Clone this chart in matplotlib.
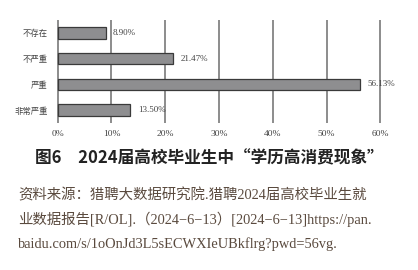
import matplotlib.pyplot as plt

categories = ['不存在', '不严重', '严重', '非常严重']
values = [8.90, 21.47, 56.13, 13.50]
value_labels = ['8.90%', '21.47%', '56.13%', '13.50%']
xticks = [0, 10, 20, 30, 40, 50, 60]
xtick_labels = ['0%', '10%', '20%', '30%', '40%', '50%', '60%']

title = '图6　2024届高校毕业生中“学历高消费现象”'
source_lines = [
    '资料来源：猎聘大数据研究院.猎聘2024届高校毕业生就',
    '业数据报告[R/OL].（2024−6−13）[2024−6−13]https://pan.',
    'baidu.com/s/1oOnJd3L5sECWXIeUBkflrg?pwd=56vg.',
]

serif = ['Liberation Serif', 'Noto Sans CJK SC']
cjk = ['Noto Sans CJK SC', 'DejaVu Sans']

fig = plt.figure(figsize=(4.18, 2.70), dpi=100)
ax = fig.add_axes([0.134, 0.544, 0.78, 0.382])

ypos = list(range(len(categories)))[::-1]
ax.barh(ypos, values, height=0.45, color='#8e8e90', edgecolor='#3a3a3a',
        linewidth=0.9, zorder=3)
for y, v, lab in zip(ypos, values, value_labels):
    ax.text(v + 1.4, y, lab, va='center', ha='left', fontsize=6.5,
            family=serif, color='#444444')

for x in xticks:
    ax.axvline(x, color='#6e6e6e', linewidth=1.1, zorder=1)

ax.set_xticks(xticks)
ax.set_xticklabels(xtick_labels, family=serif, fontsize=6.8, color='#444444')
ax.set_yticks(ypos)
ax.set_yticklabels(categories, family=cjk, fontsize=6, color='#444444')
ax.tick_params(length=0, pad=6)
ax.tick_params(axis='x', pad=5)
ax.set_xlim(-0.3, 60.3)
ax.set_ylim(-0.5, 3.5)
for s in ax.spines.values():
    s.set_visible(False)

fig.text(0.5, 0.415, title, ha='center', va='center', fontsize=12,
         fontweight='bold', family=cjk, color='#222222')
for i, line in enumerate(source_lines):
    fig.text(0.043, 0.277 - i * 0.09, line, ha='left', va='center',
             fontsize=10.4, family=serif, color='#5a4a3e')

fig.savefig('out.png', dpi=100)
